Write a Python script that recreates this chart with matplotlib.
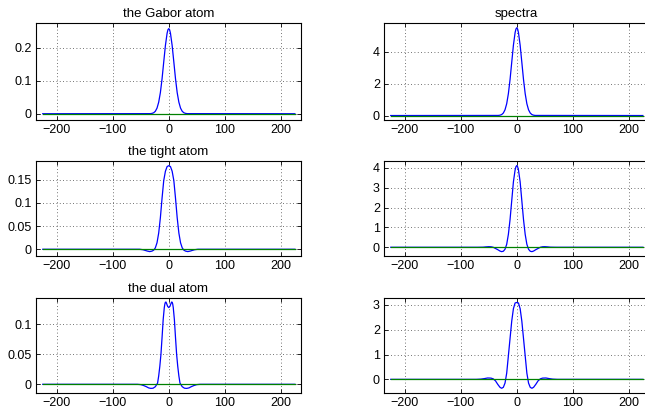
import matplotlib
matplotlib.use("Agg")
import matplotlib.pyplot as plt

plt.rcParams['font.family'] = ['Liberation Sans', 'DejaVu Sans']
plt.rcParams['font.size'] = 9

# values
gabor_x = [-225, -33, -30, -27, -24, -21, -18, -15, -12, -9, -6, -3, -1.5, 0,
           1.5, 3, 6, 9, 12, 15, 18, 21, 24, 27, 30, 33, 225]
gabor_y = [0, 0.0003, 0.001, 0.0029, 0.0074, 0.017, 0.035, 0.064, 0.106, 0.157, 0.207, 0.244,
           0.2545, 0.258,
           0.2545, 0.244, 0.207, 0.157, 0.106, 0.064, 0.035, 0.017, 0.0074, 0.0029, 0.001, 0.0003, 0]
gabor_spec = [0, 0.006, 0.021, 0.061, 0.157, 0.36, 0.74, 1.37, 2.26, 3.34, 4.41, 5.2, 5.42, 5.5,
              5.42, 5.2, 4.41, 3.34, 2.26, 1.37, 0.74, 0.36, 0.157, 0.061, 0.021, 0.006, 0]

tight_x = [-225, -52, -46, -42, -38, -34, -30, -27, -24, -21, -18, -15, -12, -9, -6, -3, 0,
           3, 6, 9, 12, 15, 18, 21, 24, 27, 30, 34, 38, 42, 46, 52, 225]
tight_y = [0, 0, -0.001, -0.0025, -0.004, -0.005, -0.004, -0.002, 0.003, 0.014, 0.035, 0.068,
           0.110, 0.148, 0.168, 0.178, 0.180,
           0.178, 0.168, 0.148, 0.110, 0.068, 0.035, 0.014, 0.003, -0.002, -0.004, -0.005,
           -0.004, -0.0025, -0.001, 0, 0]

tight_spec_x = [-225, -70, -60, -55, -50, -46, -42, -38, -34, -30, -27, -24, -21, -18, -15, -12,
                -9, -6, -3, -1.5, 0, 1.5, 3, 6, 9, 12, 15, 18, 21, 24, 27, 30, 34, 38, 42, 46, 50,
                55, 60, 70, 225]
tight_spec = [0, 0, 0.005, 0.02, 0.03, 0.025, 0.0, -0.06, -0.12, -0.19, -0.22, -0.2, -0.1, 0.15,
              0.65, 1.4, 2.35, 3.3, 3.9, 4.06, 4.12, 4.06, 3.9, 3.3, 2.35, 1.4, 0.65, 0.15, -0.1,
              -0.2, -0.22, -0.19, -0.12, -0.06, 0.0, 0.025, 0.03, 0.02, 0.005, 0, 0]

dual_x = [-225, -56, -50, -45, -40, -36, -32, -28, -24, -20, -18, -16, -14, -12, -10, -8, -7, -6,
          -5, -4, -2, 0, 2, 4, 5, 6, 7, 8, 10, 12, 14, 16, 18, 20, 24, 28, 32, 36, 40, 45, 50, 56,
          225]
dual_y = [0, 0, -0.0005, -0.002, -0.004, -0.006, -0.0068, -0.0065, -0.004, 0.002, 0.014, 0.030,
          0.05, 0.078, 0.108, 0.128, 0.134, 0.137, 0.1372, 0.135, 0.130, 0.128, 0.130, 0.135,
          0.1372, 0.137, 0.134, 0.128, 0.108, 0.078, 0.05, 0.030, 0.014, 0.002, -0.004, -0.0065,
          -0.0068, -0.006, -0.004, -0.002, -0.0005, 0, 0]

dual_spec_x = [-225, -72, -64, -58, -52, -46, -42, -38, -34, -30, -27, -24, -21, -18, -15, -12,
               -9, -6, -3, 0, 3, 6, 9, 12, 15, 18, 21, 24, 27, 30, 34, 38, 42, 46, 52, 58, 64,
               72, 225]
dual_spec = [0, 0, 0.01, 0.03, 0.055, 0.05, 0.02, -0.06, -0.2, -0.32, -0.36, -0.32, -0.15, 0.25,
             0.95, 1.65, 2.35, 2.85, 3.08, 3.1, 3.08, 2.85, 2.35, 1.65, 0.95, 0.25, -0.15, -0.32,
             -0.36, -0.32, -0.2, -0.06, 0.02, 0.05, 0.055, 0.03, 0.01, 0, 0]

zero_x = [-225, 225]
zero_y = [0, 0]

titles = ['the Gabor atom', 'spectra', 'the tight atom', '', 'the dual atom', '']
xticks = [-200, -100, 0, 100, 200]

panels = [
    (gabor_x, gabor_y, (-0.019, 0.275), [0, 0.1, 0.2], ['0', '0.1', '0.2']),
    (gabor_x, gabor_spec, (-0.28, 5.8), [0, 2, 4], ['0', '2', '4']),
    (tight_x, tight_y, (-0.0145, 0.19), [0, 0.05, 0.1, 0.15], ['0', '0.05', '0.1', '0.15']),
    (tight_spec_x, tight_spec, (-0.44, 4.35), [0, 1, 2, 3, 4], ['0', '1', '2', '3', '4']),
    (dual_x, dual_y, (-0.0145, 0.144), [0, 0.05, 0.1], ['0', '0.05', '0.1']),
    (dual_spec_x, dual_spec, (-0.55, 3.28), [0, 1, 2, 3], ['0', '1', '2', '3']),
]

W, H = 645, 409
fig = plt.figure(figsize=(W / 100, H / 100), dpi=100)

rows = [(23, 120), (161, 256), (298, 393)]
cols = [36, 384]
width = 265

for i, (x, y, ylim, yt, ytl) in enumerate(panels):
    r, c = divmod(i, 2)
    top, bot = rows[r]
    ax = fig.add_axes([cols[c] / W, 1 - bot / H, width / W, (bot - top) / H])
    ax.plot(x, y, color='#0000ff', lw=0.9)
    ax.plot(zero_x, zero_y, color='#008000', lw=0.9)
    ax.set_xlim(-237, 236)
    ax.set_ylim(*ylim)
    ax.set_xticks(xticks)
    ax.set_yticks(yt)
    ax.set_yticklabels(ytl)
    ax.grid(True, linestyle=(0, (1, 3)), color='#444444', lw=0.6)
    ax.tick_params(direction='in', top=True, right=True, length=3, width=0.6, pad=3)
    for s in ax.spines.values():
        s.set_linewidth(0.8)
    if titles[i]:
        ax.set_title(titles[i], fontsize=9.5, pad=4)

fig.savefig('out.png', dpi=100)
